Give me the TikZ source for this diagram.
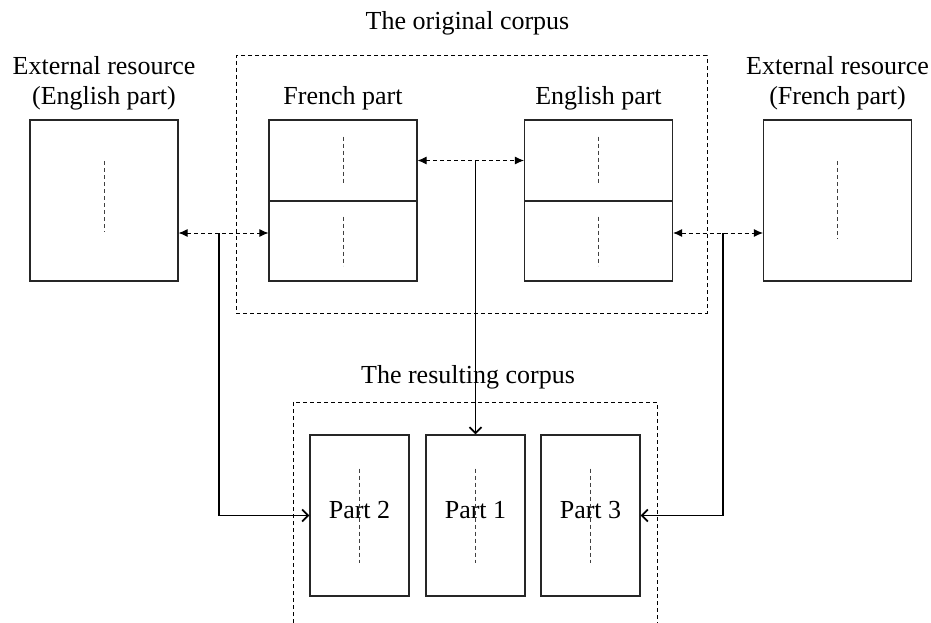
\documentclass[tikz,border=0pt]{standalone}
\usepackage{fontspec}
\setmainfont{Liberation Serif}
\usetikzlibrary{arrows.meta}
\begin{document}
\begin{tikzpicture}[x=1pt,y=-1pt,
  every node/.style={font=\fontsize{26}{30}\selectfont},
  lbl/.style={inner sep=0pt},
  box/.style={draw=black!85, line width=1.1pt, inner sep=0pt, minimum width=148pt, minimum height=161pt},
  half/.style={draw=black!85, line width=1.1pt, inner sep=0pt, minimum width=148pt},
  partbox/.style={draw=black!85, line width=1.1pt, inner sep=0pt, minimum width=99pt, minimum height=161pt, text height=18pt, text depth=13pt},
  dashline/.style={dash pattern=on 4pt off 3pt, line width=1pt},
  grp/.style={draw, dashline, inner sep=0pt},
  idash/.style={draw=black!75, dash pattern=on 4pt off 3pt, line width=1pt},
  darr/.style={dashline, {Latex[length=9pt,width=8pt]}-{Latex[length=9pt,width=8pt]}},
  sarr/.style={line width=1.1pt, -{Straight Barb[length=6pt,width=12pt,line width=1.8pt]}}
]
\useasboundingbox (0,0) rectangle (931,623);

% original corpus group
\node[grp, minimum width=471pt, minimum height=257pt,
  label={[lbl, xshift=-4pt, label distance=20pt]above:The original corpus}] (orig) at (471.5,184.5) {};

% boxes
\node[box, label={[lbl, align=center, label distance=9pt]above:{External resource\\(English part)}}] (ext1) at (104,200.5) {};
\node[half, minimum height=81pt, label={[lbl, label distance=9pt]above:French part}] (frT) at (343,160.5) {};
\node[half, minimum height=80pt] (frB) at (343,241) {};
\node[half, minimum height=81pt, label={[lbl, label distance=9pt]above:English part}] (enT) at (598.5,160.5) {};
\node[half, minimum height=80pt] (enB) at (598.5,241) {};
\node[box, label={[lbl, align=center, label distance=9pt]above:{External resource\\(French part)}}] (ext2) at (837.5,200.5) {};

% resulting corpus
\draw[dashline] (293,623) -- (293,402) -- (657,402) -- (657,623);
\node[lbl, anchor=south] (reslbl) at (468,389) {The resulting corpus};
\node[partbox] (p2) at (359.5,515.5) {Part 2};
\node[partbox] (p1) at (475.5,515.5) {Part 1};
\node[partbox] (p3) at (590.5,515.5) {Part 3};

% inner dashed lines
\draw[idash] ([yshift=39.5pt]ext1.center) -- ([yshift=-31.5pt]ext1.center);
\draw[idash] ([yshift=39.5pt]ext2.center) -- ([yshift=-38.5pt]ext2.center);
\draw[idash] ([yshift=24pt]frT.center) -- ([yshift=-24pt]frT.center);
\draw[idash] ([yshift=24.5pt]frB.center) -- ([yshift=-24.5pt]frB.center);
\draw[idash] ([yshift=24pt]enT.center) -- ([yshift=-24pt]enT.center);
\draw[idash] ([yshift=24.5pt]enB.center) -- ([yshift=-24.5pt]enB.center);
\draw[idash] ([yshift=47pt]p2.center) -- ([yshift=-47pt]p2.center);
\draw[idash] ([yshift=47pt]p1.center) -- ([yshift=-47pt]p1.center);
\draw[idash] ([yshift=47pt]p3.center) -- ([yshift=-47pt]p3.center);

% junctions
\coordinate (lj) at (219,233);
\coordinate (rj) at (723,233);
\coordinate (tj) at (p1.north |- frT.east);

% connectors
\draw[darr] (lj -| ext1.east) -- (lj -| frB.west);
\draw[darr] (frT.east) -- (enT.west);
\draw[darr] (rj -| enB.east) -- (rj -| ext2.west);
\draw[sarr] (lj) |- (p2.west);
\draw[sarr] (tj) -- (p1.north);
\draw[sarr] (rj) |- (p3.east);
\end{tikzpicture}
\end{document}
